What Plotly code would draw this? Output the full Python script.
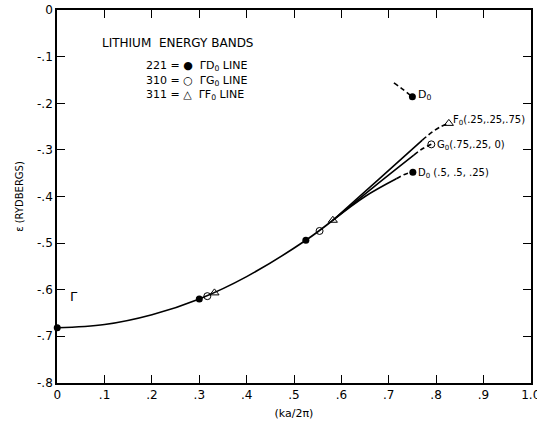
import plotly.graph_objects as go

# ---- data ----
main_x = [0.0, 0.1, 0.2, 0.3, 0.4, 0.525, 0.582]
main_y = [-0.682, -0.675, -0.654, -0.620, -0.572, -0.494, -0.451]

f_solid_x = [0.582, 0.68, 0.771]
f_solid_y = [-0.451, -0.362, -0.279]
f_dash_x = [0.771, 0.79, 0.81, 0.827]
f_dash_y = [-0.279, -0.263, -0.250, -0.243]

g_solid_x = [0.582, 0.67, 0.753]
g_solid_y = [-0.451, -0.378, -0.311]
g_dash_x = [0.753, 0.772, 0.79]
g_dash_y = [-0.311, -0.297, -0.288]

d_solid_x = [0.582, 0.65, 0.716]
d_solid_y = [-0.451, -0.400, -0.362]
d_dash_x = [0.716, 0.735, 0.750]
d_dash_y = [-0.362, -0.352, -0.348]

dup_dash_x = [0.711, 0.730, 0.750]
dup_dash_y = [-0.156, -0.170, -0.186]

pts_221_x = [0.0, 0.30, 0.525, 0.750, 0.751]
pts_221_y = [-0.682, -0.620, -0.494, -0.186, -0.348]
pts_310_x = [0.317, 0.554, 0.790]
pts_310_y = [-0.614, -0.474, -0.288]
pts_311_x = [0.332, 0.582, 0.827]
pts_311_y = [-0.607, -0.451, -0.243]

x_ticks = [0, 0.1, 0.2, 0.3, 0.4, 0.5, 0.6, 0.7, 0.8, 0.9, 1.0]
x_tick_text = ["0", ".1", ".2", ".3", ".4", ".5", ".6", ".7", ".8", ".9", "1.0"]
y_ticks = [0, -0.1, -0.2, -0.3, -0.4, -0.5, -0.6, -0.7, -0.8]
y_tick_text = ["0", "-.1", "-.2", "-.3", "-.4", "-.5", "-.6", "-.7", "-.8"]

FONT = "DejaVu Sans"
K = "black"

fig = go.Figure()

def line(x, y, dash="solid"):
    fig.add_trace(go.Scatter(x=x, y=y, mode="lines",
                             line=dict(color=K, width=1.6, dash=dash, shape="spline"),
                             showlegend=False, hoverinfo="skip"))

line(main_x, main_y)
line(f_solid_x, f_solid_y)
line(g_solid_x, g_solid_y)
line(d_solid_x, d_solid_y)
line(f_dash_x, f_dash_y, "5px,3px")
line(g_dash_x, g_dash_y, "5px,3px")
line(d_dash_x, d_dash_y, "5px,3px")
line(dup_dash_x, dup_dash_y, "5px,3px")

fig.add_trace(go.Scatter(x=pts_221_x, y=pts_221_y, mode="markers",
                         marker=dict(symbol="circle", size=7, color=K),
                         showlegend=False, cliponaxis=False))
fig.add_trace(go.Scatter(x=pts_310_x, y=pts_310_y, mode="markers",
                         marker=dict(symbol="circle-open", size=7, color=K, line=dict(width=1)),
                         showlegend=False))
fig.add_trace(go.Scatter(x=pts_311_x, y=pts_311_y, mode="markers",
                         marker=dict(symbol="triangle-up-open", size=8, color=K, line=dict(width=1)),
                         showlegend=False))

def ann(text, x, y, xanchor="left", size=11, xref="x", yref="y", **kw):
    fig.add_annotation(text=text, x=x, y=y, xref=xref, yref=yref, showarrow=False,
                       xanchor=xanchor, yanchor="middle",
                       font=dict(family=FONT, size=size, color=K), **kw)

ann("LITHIUM  ENERGY BANDS", 0.090, -0.071, size=12)
ann("221 = ●  ΓD<sub>0</sub> LINE", 0.184, -0.12, size=11)
ann("310 = ○  ΓG<sub>0</sub> LINE", 0.184, -0.151, size=11)
ann("311 = △  ΓF<sub>0</sub> LINE", 0.184, -0.181, size=11)
ann("Γ", 0.022, -0.615, size=13)
ann("D<sub>0</sub>", 0.758, -0.182, size=11)
ann("F<sub>0</sub>(.25,.25,.75)", 0.832, -0.236, size=10)
ann("G<sub>0</sub>(.75,.25, 0)", 0.797, -0.290, size=10)
ann("D<sub>0</sub> (.5, .5, .25)", 0.758, -0.350, size=10)

fig.update_layout(
    width=537, height=429,
    margin=dict(l=57, r=6, t=10, b=46),
    paper_bgcolor="white", plot_bgcolor="white",
    font=dict(family=FONT, size=11, color=K),
    showlegend=False,
)
fig.update_xaxes(range=[-0.0005, 1.0005], tickvals=x_ticks, ticktext=x_tick_text,
                 ticks="inside", ticklen=8, tickwidth=1.2, tickcolor=K,
                 showline=True, linecolor=K, linewidth=1.6, mirror="ticks",
                 showgrid=False, zeroline=False, ticklabeloverflow="allow",
                 automargin=False,
                 tickfont=dict(family=FONT, size=12),
                 title=dict(text="(ka/2π)", font=dict(family=FONT, size=11), standoff=8))
fig.update_yaxes(range=[-0.8005, 0.0005], tickvals=y_ticks, ticktext=y_tick_text,
                 ticks="inside", ticklen=8, tickwidth=1.2, tickcolor=K,
                 showline=True, linecolor=K, linewidth=1.6, mirror="ticks",
                 showgrid=False, zeroline=False, automargin=False,
                 ticklabeloverflow="allow",
                 tickfont=dict(family=FONT, size=12),
                 title=dict(text="ε (RYDBERGS)", font=dict(family=FONT, size=10), standoff=12))

# remove the page's default body margin so the figure sits at the window's corner
fig.write_html("out.html", config={"displayModeBar": False},
               post_script="document.body.style.margin='0';")
